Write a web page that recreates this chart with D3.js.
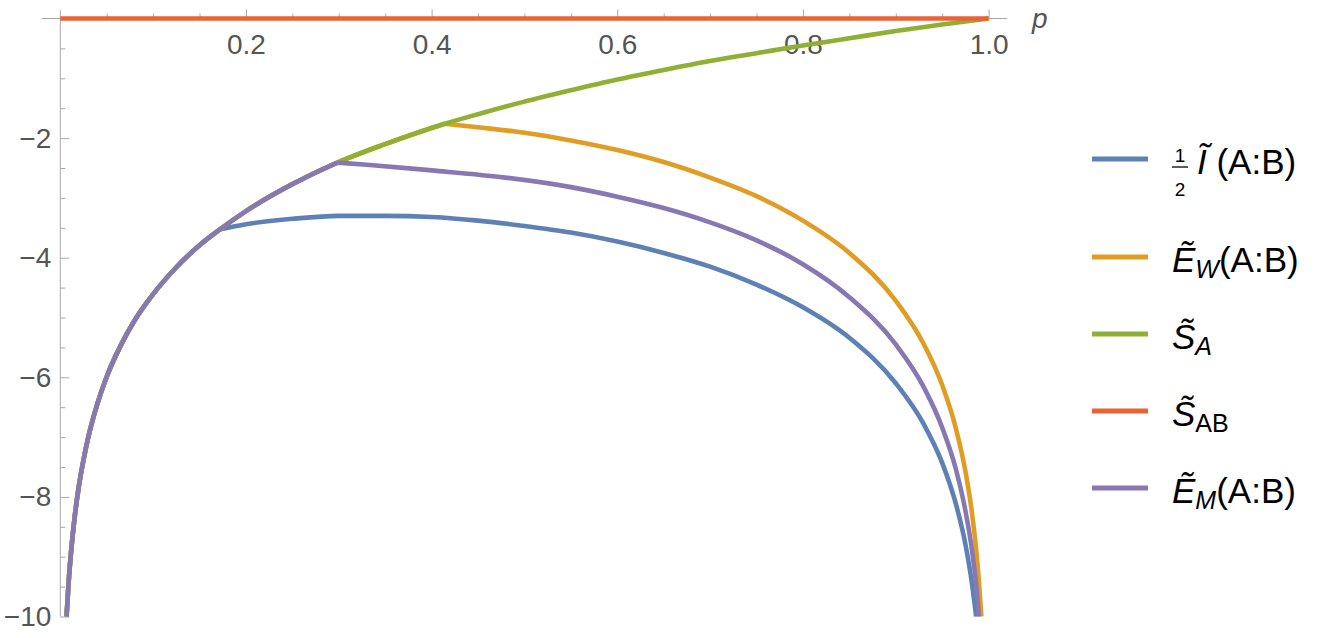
<!DOCTYPE html>
<html>
<head>
<meta charset="utf-8">
<script src="https://cdn.jsdelivr.net/npm/d3@7"></script>
<style>
  body { margin: 0; background: #fff; }
  svg { display: block; font-family: "Liberation Sans", Arial, sans-serif; }
</style>
</head>
<body>
<div id="Area1"></div>
<script>
// values
var pGreen = [0.00674, 0.009, 0.012, 0.016, 0.02, 0.025, 0.03, 0.04, 0.05, 0.065, 0.08, 0.1, 0.125, 0.15, 0.1716, 0.2, 0.25, 0.2984, 0.35, 0.4142, 0.45, 0.5, 0.55, 0.6, 0.65, 0.7, 0.75, 0.8, 0.85, 0.9, 0.95, 1.0];
var vGreen = [-10, -9.42, -8.85, -8.27, -7.82, -7.38, -7.01, -6.44, -5.99, -5.47, -5.05, -4.61, -4.16, -3.79, -3.53, -3.22, -2.77, -2.41, -2.10, -1.76, -1.60, -1.39, -1.20, -1.02, -0.86, -0.71, -0.58, -0.45, -0.33, -0.21, -0.10, 0];

// branches (they follow the green curve before their first point)
var pBlue = [0.1716, 0.2, 0.25, 0.3, 0.35, 0.4, 0.45, 0.5, 0.55, 0.6, 0.65, 0.7, 0.75, 0.8, 0.85, 0.9, 0.93, 0.95, 0.965, 0.975, 0.982, 0.9866];
var vBlue = [-3.53, -3.44, -3.35, -3.30, -3.30, -3.32, -3.38, -3.47, -3.58, -3.73, -3.92, -4.15, -4.45, -4.83, -5.34, -6.10, -6.78, -7.43, -8.13, -8.79, -9.44, -10];

var pOrange = [0.4142, 0.45, 0.5, 0.55, 0.6, 0.65, 0.7, 0.75, 0.8, 0.85, 0.9, 0.93, 0.95, 0.965, 0.975, 0.982, 0.988, 0.9922];
var vOrange = [-1.76, -1.82, -1.91, -2.04, -2.20, -2.40, -2.66, -2.97, -3.38, -3.92, -4.72, -5.44, -6.13, -6.87, -7.57, -8.26, -9.11, -10];

var pPurple = [0.2984, 0.3336, 0.4, 0.4737, 0.55, 0.6, 0.65, 0.7, 0.75, 0.8, 0.85, 0.9, 0.93, 0.95, 0.965, 0.975, 0.982, 0.987, 0.9897];
var vPurple = [-2.41, -2.45, -2.54, -2.65, -2.82, -2.98, -3.17, -3.41, -3.71, -4.11, -4.66, -5.45, -6.16, -6.84, -7.55, -8.23, -8.88, -9.53, -10];

var pRed = [0, 1];
var vRed = [0, 0];

var xTicks = [0.2, 0.4, 0.6, 0.8, 1.0];
var xMinor = [0.05, 0.1, 0.15, 0.25, 0.3, 0.35, 0.45, 0.5, 0.55, 0.65, 0.7, 0.75, 0.85, 0.9, 0.95];
var yTicks = [-2, -4, -6, -8, -10];
var yMinor = [-0.5, -1, -1.5, -2.5, -3, -3.5, -4.5, -5, -5.5, -6.5, -7, -7.5, -8.5, -9, -9.5];

var colors = {blue: "#5E81B5", orange: "#E19C24", green: "#8FB032", red: "#EB6235", purple: "#8778B3"};

var width = 1323, height = 638;

var svg = d3.select("#Area1")
  .append("svg")
  .attr("width", width)
  .attr("height", height);

var xscl = d3.scaleLinear().domain([0, 1]).range([60.3, 988.6]);
var yscl = d3.scaleLinear().domain([-10, 0]).range([616.5, 18.5]);

var axisColor = "#a8a8a8", labelColor = "#555";

// axis lines
svg.append("line")
  .attr("x1", xscl(-0.02)).attr("x2", xscl(1.02))
  .attr("y1", yscl(0)).attr("y2", yscl(0))
  .attr("stroke", axisColor).attr("stroke-width", 1);
svg.append("line")
  .attr("x1", xscl(0)).attr("x2", xscl(0))
  .attr("y1", yscl(0.14)).attr("y2", yscl(-10))
  .attr("stroke", axisColor).attr("stroke-width", 1);

// x axis: ticks point up, labels below
var gx = svg.append("g").attr("transform", "translate(0," + yscl(0) + ")");
gx.call(d3.axisBottom(xscl).tickValues(xTicks).tickSizeInner(-9).tickSizeOuter(0)
  .tickPadding(16).tickFormat(d3.format(".1f")));
var gxm = svg.append("g").attr("transform", "translate(0," + yscl(0) + ")");
gxm.call(d3.axisBottom(xscl).tickValues(xMinor).tickSizeInner(-5).tickSizeOuter(0).tickFormat(""));

// y axis: ticks point right, labels left
var gy = svg.append("g").attr("transform", "translate(" + xscl(0) + ",0)");
gy.call(d3.axisLeft(yscl).tickValues(yTicks).tickSizeInner(-9).tickSizeOuter(0)
  .tickPadding(9).tickFormat(d3.format("d")));
var gym = svg.append("g").attr("transform", "translate(" + xscl(0) + ",0)");
gym.call(d3.axisLeft(yscl).tickValues(yMinor).tickSizeInner(-5).tickSizeOuter(0).tickFormat(""));

svg.selectAll(".domain").remove();
svg.selectAll(".tick line").attr("stroke", axisColor);
svg.selectAll(".tick text")
  .attr("fill", labelColor)
  .attr("font-size", 28)
  .attr("font-family", "Liberation Sans, Arial, sans-serif");

svg.append("text")
  .attr("x", 1032).attr("y", 28)
  .attr("font-size", 28).attr("font-style", "italic")
  .attr("fill", labelColor)
  .text("p");

// curves
var myline = d3.line()
  .x(function(d) { return xscl(d.x); })
  .y(function(d) { return yscl(d.y); })
  .curve(d3.curveMonotoneX);

function pts(ps, vs) {
  var xy = [];
  for (var i = 0; i < ps.length; i++) {
    xy.push({x: ps[i], y: vs[i]});
  }
  return xy;
}

var green = pts(pGreen, vGreen);

function branchPath(ps, vs) {
  var br = pts(ps, vs);
  var head = green.filter(function(d) { return d.x < br[0].x; });
  head.push(br[0]);
  return myline(head) + myline(br);
}

var series = [
  {d: branchPath(pBlue, vBlue), c: colors.blue},
  {d: branchPath(pOrange, vOrange), c: colors.orange},
  {d: myline(green), c: colors.green},
  {d: d3.line().x(function(d) { return xscl(d.x); }).y(function(d) { return yscl(d.y); })(pts(pRed, vRed)), c: colors.red},
  {d: branchPath(pPurple, vPurple), c: colors.purple}
];

series.forEach(function(s) {
  svg.append("path")
    .attr("d", s.d)
    .style("fill", "none")
    .style("stroke", s.c)
    .style("stroke-width", 4.6)
    .style("stroke-linejoin", "round");
});

// legend
var legendY = [159, 257, 334, 411, 488];
var legendColors = [colors.blue, colors.orange, colors.green, colors.red, colors.purple];
var legendParts = [
  [{t: "\u0128", it: true}, {t: " (A:B)"}],
  [{t: "\u1EBC", it: true}, {t: "W", it: true, sub: true}, {t: "(A:B)"}],
  [{t: "S\u0303", it: true}, {t: "A", it: true, sub: true}],
  [{t: "S\u0303", it: true}, {t: "AB", sub: true}],
  [{t: "\u1EBC", it: true}, {t: "M", it: true, sub: true}, {t: "(A:B)"}]
];

var leg = svg.append("g");
legendParts.forEach(function(parts, i) {
  var y = legendY[i];
  leg.append("line")
    .attr("x1", 1092).attr("x2", 1148)
    .attr("y1", y).attr("y2", y)
    .attr("stroke", legendColors[i]).attr("stroke-width", 4.8);

  var tx = i == 0 ? 1197 : 1172;
  var txt = leg.append("text")
    .attr("x", tx).attr("y", y + 15)
    .attr("font-size", 35)
    .attr("fill", "#000");
  var shifted = false;
  parts.forEach(function(p) {
    var ts = txt.append("tspan").text(p.t);
    if (p.it) ts.attr("font-style", "italic");
    if (p.sub) {
      ts.attr("font-size", 25).attr("dy", 6);
      shifted = true;
    } else if (shifted) {
      ts.attr("dy", -6);
      shifted = false;
    }
  });

  if (i == 0) {
    // the 1/2 in front of the first label
    leg.append("text").attr("x", 1180).attr("y", y + 3)
      .attr("font-size", 19).attr("text-anchor", "middle").text("1");
    leg.append("line")
      .attr("x1", 1172).attr("x2", 1188)
      .attr("y1", y + 8).attr("y2", y + 8)
      .attr("stroke", "#000").attr("stroke-width", 1.3);
    leg.append("text").attr("x", 1180).attr("y", y + 37)
      .attr("font-size", 19).attr("text-anchor", "middle").text("2");
  }
});
</script>
</body>
</html>
